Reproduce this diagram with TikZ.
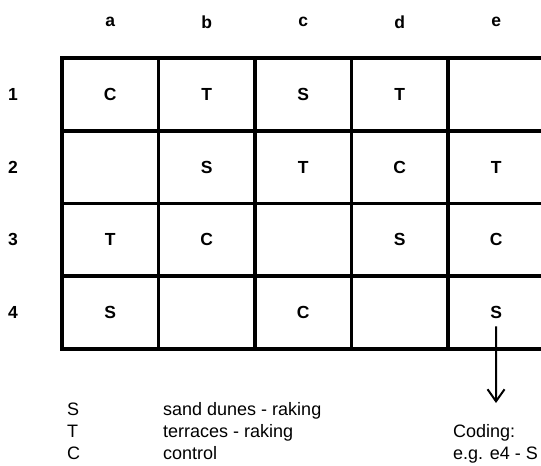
\documentclass[tikz,border=0pt]{standalone}
\usepackage{fontspec}
\setmainfont{Liberation Sans}
\usetikzlibrary{arrows.meta}

\tikzset{
  cell/.style={font=\fontsize{17.5}{20}\selectfont\bfseries},
  key/.style={font=\fontsize{18}{22}\selectfont, anchor=base west, inner sep=0pt},
  gridline/.style={line width=3.8pt},
}

\begin{document}
\begin{tikzpicture}[x=1pt, y=-1pt]
  \useasboundingbox (0,0) rectangle (541,466);
  % plot grid (right edge falls outside the page)
  \foreach \i in {0,...,5} {
    \draw[gridline] ({62+\i*96.5},58) -- ({62+\i*96.5},349);
  }
  \foreach \j in {0,...,4} {
    \draw[gridline] (60.1,{58+\j*72.75}) -- (546,{58+\j*72.75});
  }
  % column and row labels
  \foreach \l [count=\i] in {a,b,c,d,e} {
    \node[cell] (col-\l) at ({62+(\i-0.5)*96.5},22) {\l};
  }
  \foreach \r in {1,...,4} {
    \node[cell] (row-\r) at (13,{58+(\r-0.5)*72.75}) {\r};
  }
  % treatments
  \foreach \l/\i/\r/\t in {a/1/1/C, b/2/1/T, c/3/1/S, d/4/1/T,
                           b/2/2/S, c/3/2/T, d/4/2/C, e/5/2/T,
                           a/1/3/T, b/2/3/C, d/4/3/S, e/5/3/C,
                           a/1/4/S, c/3/4/C, e/5/4/S} {
    \node[cell] (\l\r) at ({62+(\i-0.5)*96.5},{58+(\r-0.5)*72.75}) {\t};
  }
  % coding arrow
  \coordinate (code) at (496,403);
  \draw[line width=2pt, -{Straight Barb[length=12pt,width=17pt,line width=2pt]},
        shorten <=4pt] (e4.south) -- (code);
  % legend
  \node[key] (kS) at (67,415) {S};
  \node[key] (kT) at (67,437) {T};
  \node[key] (kC) at (67,459) {C};
  \node[key] (dS) at (163,415) {sand dunes - raking};
  \node[key] (dT) at (163,437) {terraces - raking};
  \node[key] (dC) at (163,459) {control};
  \node[key] (coding) at (453,437) {Coding:};
  \node[key] (example) at (453,459) {e.g. e4 - S};
\end{tikzpicture}
\end{document}
